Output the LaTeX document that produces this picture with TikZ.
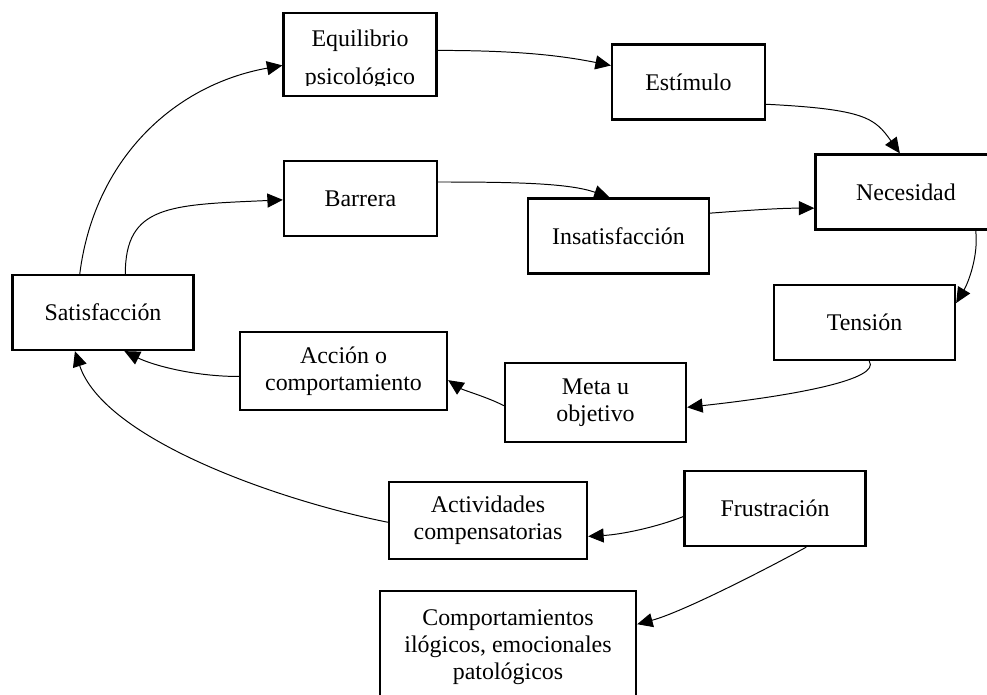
\documentclass[tikz,border=0pt]{standalone}
\usepackage{fontspec}
\setmainfont{Liberation Serif}
\usetikzlibrary{arrows.meta}
\begin{document}
\begin{tikzpicture}[
    x=0.025cm, y=-0.025cm,
    lbl/.style={font=\fontsize{17}{19}\selectfont, inner sep=0pt},
    stage/.style={lbl, draw, line width=1.6pt, minimum width=4.525cm,
                  minimum height=1.875cm, inner sep=2pt, align=center},
    narrow/.style={stage, minimum width=3.825cm},
    link/.style={-{Triangle[length=11pt,width=10pt]}, line width=0.7pt},
]
\useasboundingbox (0,0) rectangle (987,695);
\clip (0,0) rectangle (987,695);

\node[narrow, minimum height=2.075cm] (equil) at (360,54.5) {};
\begin{scope}
  \clip (286,15) rectangle (434,86);
  \node[lbl, anchor=base] (equil-a) at (360,47) {Equilibrio};
  \node[lbl, anchor=base] (equil-b) at (360,85) {psicológico};
\end{scope}
\node[narrow] (estim) at (688.5,82) {Estímulo};
\node[stage] (neces) at (906,192) {Necesidad};
\node[narrow] (barrera) at (360.5,198.5) {Barrera};
\node[stage] (insat) at (618.5,236) {Insatisfacción};
\node[stage] (satisf) at (103,312.5) {Satisfacción};
\node[stage] (tension) at (864.5,322.5) {Tensión};
\node[stage, minimum width=5.175cm, minimum height=1.95cm] (accion) at (343.5,371) {Acción o\\comportamiento};
\node[stage, minimum height=1.975cm] (meta) at (595.5,402.5) {Meta u\\objetivo};
\node[stage, minimum width=4.95cm, minimum height=1.925cm] (activ) at (488,520.5) {Actividades\\compensatorias};
\node[stage] (frustr) at (775,508.5) {Frustración};
\node[stage, minimum width=6.4cm, minimum height=2.8cm] (comport) at (508,647) {Comportamientos\\ilógicos, emocionales\\patológicos};

\draw[link] (satisf.121) .. controls +(14,-112) and +(-111,20) .. (equil.188);
\draw[link] (satisf.60) .. controls +(0,-69) and +(-113,5) .. (barrera.181);
\draw[link] (equil.3) .. controls +(80,0) and +(-50,-10) .. (estim.168);
\draw[link] (estim.344) .. controls +(100,5) and +(-25,-35) .. (neces.99);
\draw[link] (barrera.12) .. controls +(80,0) and +(-40,-14) .. (insat.103);
\draw[link] (insat.14) .. controls +(40,-3) and +(-35,0) .. (neces.190);
\draw[link] (neces.331) .. controls +(3,25) and +(12,-20) .. (tension.12);
\draw[link] (tension.277) .. controls +(12,18) and +(110,-12) .. (meta.357);
\draw[link] (meta.182) .. controls +(-15,-8) and +(15,10) .. (accion.355);
\draw[link] (accion.183) .. controls +(-45,0) and +(28,14) .. (satisf.299);
\draw[link] (activ.181) .. controls +(-110,-22) and +(29,88) .. (satisf.234);
\draw[link] (frustr.185) .. controls +(-25,10) and +(35,-2) .. (activ.351);
\draw[link] (frustr.309) .. controls +(-40,22) and +(45,-12) .. (comport.10);
\end{tikzpicture}
\end{document}
